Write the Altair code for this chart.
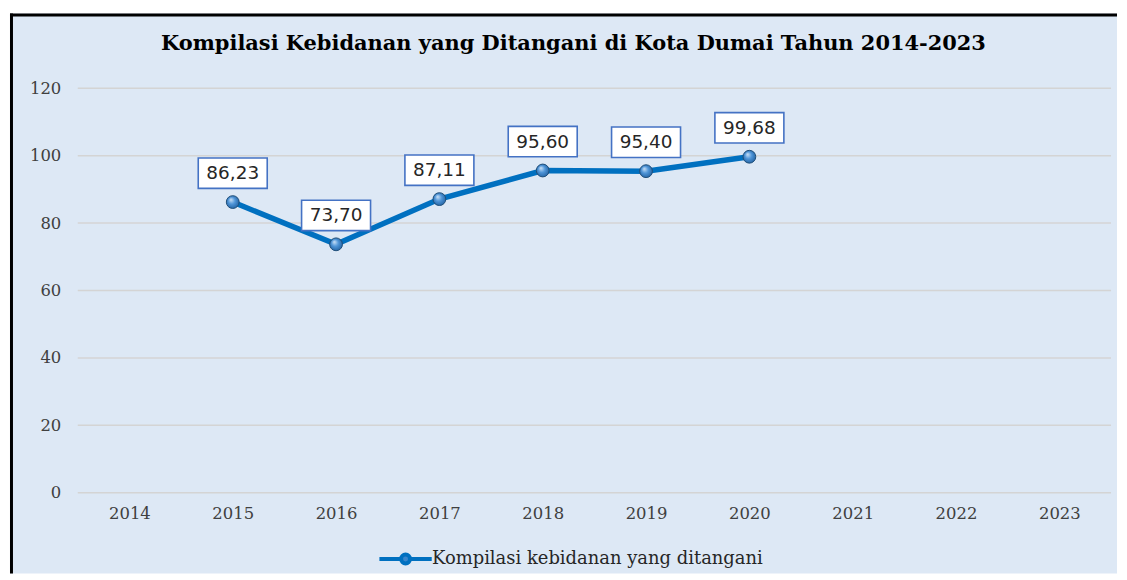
import altair as alt
import pandas as pd

years = ["2014", "2015", "2016", "2017", "2018", "2019", "2020", "2021", "2022", "2023"]
data_years = ["2015", "2016", "2017", "2018", "2019", "2020"]
values = [86.23, 73.70, 87.11, 95.60, 95.40, 99.68]
y_ticks = [0, 20, 40, 60, 80, 100, 120]
series_name = "Kompilasi kebidanan yang ditangani"
title_text = "Kompilasi Kebidanan yang Ditangani di Kota Dumai Tahun 2014-2023"

labels = [f"{v:.2f}".replace(".", ",") for v in values]
df = pd.DataFrame({"year": data_years, "value": values, "label": labels, "series": series_name})
grid_df = pd.DataFrame({"tick": y_ticks})
frame_df = pd.DataFrame({"k": [0]})

W, H = 1037, 406
BG = "#dde8f5"
LINE = "#0070c0"
BOX = "#4472c4"

x_enc = alt.X("year:N", scale=alt.Scale(domain=years, paddingInner=0, paddingOuter=0),
              axis=alt.Axis(title=None, labelAngle=0, domain=False, ticks=False, grid=False,
                            labelFont="DejaVu Serif", labelFontSize=16.5, labelColor="#404040",
                            labelPadding=13, zindex=1))
y_enc = alt.Y("value:Q", scale=alt.Scale(domain=[0, 120]),
              axis=alt.Axis(title=None, values=y_ticks, domain=False, ticks=False, grid=False,
                            labelFont="DejaVu Serif", labelFontSize=16.5, labelColor="#404040",
                            labelPadding=17, zindex=1))

frame = alt.Chart(frame_df).mark_rect(fill=BG).encode(
    x=alt.value(-68), x2=alt.value(1043), y=alt.value(-75), y2=alt.value(487)
)
border_left = alt.Chart(frame_df).mark_rule(color="#000000", strokeWidth=3).encode(
    x=alt.value(-66.5), y=alt.value(-75), y2=alt.value(487)
)
border_top = alt.Chart(frame_df).mark_rule(color="#000000", strokeWidth=3).encode(
    y=alt.value(-73.5), x=alt.value(-68), x2=alt.value(1043)
)

grid = alt.Chart(grid_df).mark_rule(color="#d4d4d4", strokeWidth=1.5).encode(
    y=alt.Y("tick:Q", scale=alt.Scale(domain=[0, 120])),
    x=alt.value(0), x2=alt.value(W)
)

symbol_path = ("M-3.5,0 L-0.6,0 M0.6,0 L3.5,0 "
               "M0.6,0 A0.6,0.6 0 1 1 -0.6,0 A0.6,0.6 0 1 1 0.6,0 Z")

line = alt.Chart(df).mark_line(strokeWidth=5.5).encode(
    x=x_enc, y=y_enc,
    color=alt.Color("series:N", scale=alt.Scale(domain=[series_name], range=[LINE]),
                    legend=alt.Legend(title=None, orient="none", legendX=319.5, legendY=463,
                                      symbolType=symbol_path, symbolSize=225,
                                      symbolStrokeWidth=4, symbolStrokeColor=LINE,
                                      symbolFillColor="#3a86cc", labelOffset=17,
                                      labelFont="DejaVu Serif", labelFontSize=18,
                                      labelLimit=600,
                                      labelColor="#262626", padding=0, zindex=1))
)

grad = alt.RadialGradient(gradient="radial", x1=0.35, y1=0.3, r1=0.0, x2=0.5, y2=0.5, r2=0.6,
                          stops=[alt.GradientStop(offset=0, color="#cfe3f7"),
                                 alt.GradientStop(offset=0.45, color="#4f95d8"),
                                 alt.GradientStop(offset=1, color="#1c5a99")])

points = alt.Chart(df).mark_point(filled=True, shape="circle", size=165, fill=grad,
                                  stroke="#1f4e79", strokeWidth=1, opacity=1).encode(
    x=alt.X("year:N"), y=alt.Y("value:Q")
)

box_path = "M-2.27,-1 L2.27,-1 L2.27,1 L-2.27,1 Z"
boxes = alt.Chart(df).mark_point(shape=box_path, size=930, filled=True, fill="#ffffff",
                                 stroke=BOX, strokeWidth=1.6, opacity=1, yOffset=-29).encode(
    x=alt.X("year:N"), y=alt.Y("value:Q")
)

texts = alt.Chart(df).mark_text(font="DejaVu Sans", fontSize=18.5, color="#262626",
                                baseline="middle", yOffset=-29).encode(
    x=alt.X("year:N"), y=alt.Y("value:Q"), text="label:N"
)

chart = alt.layer(frame, border_left, border_top, grid, line, points, boxes, texts).properties(
    width=W, height=H,
    padding={"left": 0, "top": 2.5, "right": 0, "bottom": 0},
    background="#ffffff",
    title=alt.TitleParams(title_text, font="DejaVu Serif", fontSize=21, fontWeight="bold",
                          color="#000000", offset=-42.5, dx=-21, zindex=1)
).configure_view(stroke=None)

chart.save("out.html", embed_options={"renderer": "svg", "actions": False})
